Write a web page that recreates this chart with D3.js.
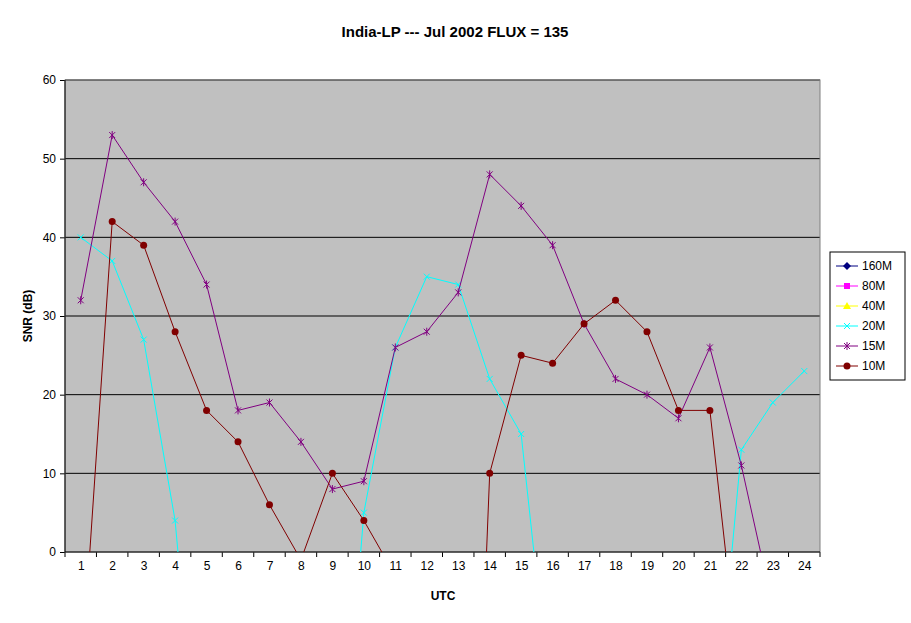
<html>
<head>
<style>
  body { margin: 0; background: #fff; font-family: Arial, 'Liberation Sans', sans-serif; }
</style>
</head>
<body>
<svg id="chart" width="911" height="623"></svg>
<script src="https://d3js.org/d3.v7.min.js"></script>
<script>
'use strict';

var hours = d3.range(1, 25);
var yTicks = [0, 10, 20, 30, 40, 50, 60];

// values below 0 are clipped by the plot area, as in the original
var snr160 = hours.map(() => null);
var snr80 = hours.map(() => null);
var snr40 = hours.map(() => null);
var snr20 = [40, 37, 27, 4, -40, -40, -40, -40, -45, 5, 26, 35, 34, 22, 15, -22,
             -30, -30, -30, -30, -30, 13, 19, 23];
var snr15 = [32, 53, 47, 42, 34, 18, 19, 14, 8, 9, 26, 28, 33, 48, 44, 39,
             29, 22, 20, 17, 26, 11, -7, -20];
var snr10 = [-17, 42, 39, 28, 18, 14, 6, -1, 10, 4, -3, -30, -90, 10, 25, 24,
             29, 32, 28, 18, 18, -18, -30, -30];

var series = [
  { name: '160M', color: '#000080', values: snr160, marker: 'diamond' },
  { name: '80M',  color: '#ff00ff', values: snr80,  marker: 'square' },
  { name: '40M',  color: '#ffff00', values: snr40,  marker: 'triangle' },
  { name: '20M',  color: '#00ffff', values: snr20,  marker: 'x' },
  { name: '15M',  color: '#800080', values: snr15,  marker: 'star' },
  { name: '10M',  color: '#800000', values: snr10,  marker: 'circle' }
];

var svg = d3.select('#chart');
var pLeft = 65, pRight = 820, pTop = 80, pBottom = 552;

var x = d3.scalePoint().domain(hours).range([pLeft, pRight]).padding(0.5);
var y = d3.scaleLinear().domain([0, 60]).range([pBottom, pTop]);

svg.append('text').attr('x', 455).attr('y', 37).attr('text-anchor', 'middle')
  .style('font-weight', 'bold').style('font-size', '15px')
  .text('India-LP --- Jul 2002  FLUX = 135');

svg.append('rect').attr('x', pLeft).attr('y', pTop)
  .attr('width', pRight - pLeft).attr('height', pBottom - pTop)
  .attr('fill', '#c0c0c0');

svg.append('g').selectAll('line').data(yTicks.slice(1)).join('line')
  .attr('x1', pLeft).attr('x2', pRight)
  .attr('y1', d => y(d)).attr('y2', d => y(d))
  .attr('stroke', '#000');

svg.append('defs').append('clipPath').attr('id', 'clip')
  .append('rect').attr('x', pLeft).attr('y', pTop)
  .attr('width', pRight - pLeft).attr('height', pBottom - pTop);

var yAxis = svg.append('g').attr('transform', 'translate(' + pLeft + ',0)')
  .call(d3.axisLeft(y).tickValues(yTicks).tickSize(5).tickPadding(4));
var xAxis = svg.append('g').attr('transform', 'translate(0,' + pBottom + ')')
  .call(d3.axisBottom(x).tickSize(0).tickPadding(9));
var step = x.step();
xAxis.selectAll('.tk').data(d3.range(25)).join('line').attr('class', 'tk')
  .attr('x1', d => pLeft + d * step).attr('x2', d => pLeft + d * step)
  .attr('y1', 0).attr('y2', 5).attr('stroke', '#000');
[yAxis, xAxis].forEach(a => {
  a.selectAll('text').style('font-size', '12px').style('font-family', 'Arial, Liberation Sans');
  a.select('.domain').remove();
});

svg.append('rect').attr('x', pLeft).attr('y', pTop)
  .attr('width', pRight - pLeft).attr('height', pBottom - pTop)
  .attr('fill', 'none').attr('stroke', '#808080');
svg.append('line').attr('x1', pLeft).attr('x2', pRight).attr('y1', pBottom).attr('y2', pBottom).attr('stroke', '#000');
svg.append('line').attr('x1', pLeft).attr('x2', pLeft).attr('y1', pTop).attr('y2', pBottom).attr('stroke', '#000');

svg.append('text').attr('x', 443).attr('y', 600).attr('text-anchor', 'middle')
  .style('font-weight', 'bold').style('font-size', '12px').text('UTC');
svg.append('text').attr('transform', 'translate(32,316) rotate(-90)')
  .attr('text-anchor', 'middle')
  .style('font-weight', 'bold').style('font-size', '12px').text('SNR (dB)');

function drawMarker(g, type, color) {
  if (type === 'diamond') g.append('path').attr('d', 'M0,-4L4,0L0,4L-4,0Z').attr('fill', color);
  if (type === 'square') g.append('rect').attr('x', -3).attr('y', -3).attr('width', 6).attr('height', 6).attr('fill', color);
  if (type === 'triangle') g.append('path').attr('d', 'M0,-4L4,3L-4,3Z').attr('fill', color);
  if (type === 'x') g.append('path').attr('d', 'M-3,-3L3,3M-3,3L3,-3').attr('stroke', color);
  if (type === 'star') g.append('path').attr('d', 'M-3,-3L3,3M-3,3L3,-3M0,-4L0,4').attr('stroke', color);
  if (type === 'circle') g.append('circle').attr('r', 3.5).attr('fill', color);
}

var line = d3.line().defined(d => d[1] !== null).x(d => x(d[0])).y(d => y(d[1]));
var plot = svg.append('g').attr('clip-path', 'url(#clip)');
series.forEach(s => {
  var pts = hours.map((h, i) => [h, s.values[i]]);
  plot.append('path').datum(pts).attr('d', line)
    .attr('fill', 'none').attr('stroke', s.color).attr('stroke-width', 1);
  pts.filter(p => p[1] !== null && p[1] >= 0).forEach(p => {
    drawMarker(plot.append('g').attr('transform', 'translate(' + x(p[0]) + ',' + y(p[1]) + ')'), s.marker, s.color);
  });
});

var lg = svg.append('g').attr('transform', 'translate(830,252)');
lg.append('rect').attr('width', 75).attr('height', 128).attr('fill', '#fff').attr('stroke', '#000');
series.forEach((s, i) => {
  var row = lg.append('g').attr('transform', 'translate(0,' + (14 + i * 20) + ')');
  row.append('line').attr('x1', 6).attr('x2', 28).attr('stroke', s.color);
  drawMarker(row.append('g').attr('transform', 'translate(17,0)'), s.marker, s.color);
  row.append('text').attr('x', 32).attr('y', 4).style('font-size', '12px').text(s.name);
});
</script>
</body>
</html>
